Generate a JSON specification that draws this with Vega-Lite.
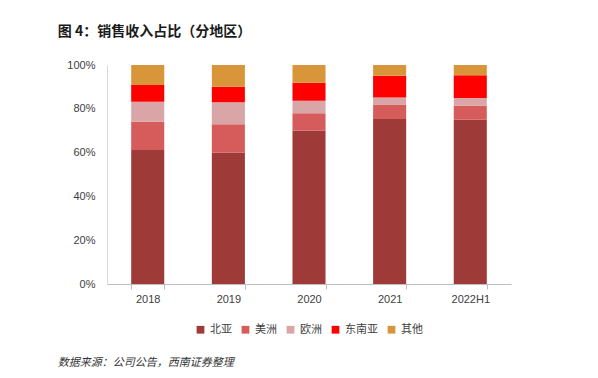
{
  "$schema": "https://vega.github.io/schema/vega-lite/v6.json",
  "padding": {"top": 25, "left": 57, "right": 80, "bottom": 4},
  "background": "white",
  "title": {"text": "数据来源：公司公告，西南证券整理", "orient": "bottom", "anchor": "start", "frame": "bounds", "font": "Noto Sans CJK SC", "fontSize": 11, "fontWeight": "normal", "fontStyle": "italic", "color": "#333333", "offset": 22},
  "config": {
    "font": "Noto Sans CJK SC",
    "view": {"stroke": null},
    "axis": {"labelFont": "Liberation Sans", "labelFontSize": 11, "labelColor": "#404040", "grid": false},
    "legend": {"layout": {"bottom": {"anchor": "middle"}}}
  },
  "vconcat": [
    {
      "width": 404,
      "height": 219,
      "title": {"text": "图 4：销售收入占比（分地区）", "anchor": "start", "frame": "bounds", "font": "Noto Sans CJK SC", "fontSize": 14, "fontWeight": "bold", "color": "#1a1a1a", "offset": 20, "dx": -9},
      "data": {"values": [
        {"year": "2018", "region": "北亚", "k": 1, "share": 61.2},
        {"year": "2018", "region": "美洲", "k": 2, "share": 12.9},
        {"year": "2018", "region": "欧洲", "k": 3, "share": 9.1},
        {"year": "2018", "region": "东南亚", "k": 4, "share": 7.7},
        {"year": "2018", "region": "其他", "k": 5, "share": 9.1},
        {"year": "2019", "region": "北亚", "k": 1, "share": 60.0},
        {"year": "2019", "region": "美洲", "k": 2, "share": 13.0},
        {"year": "2019", "region": "欧洲", "k": 3, "share": 10.0},
        {"year": "2019", "region": "东南亚", "k": 4, "share": 7.1},
        {"year": "2019", "region": "其他", "k": 5, "share": 9.9},
        {"year": "2020", "region": "北亚", "k": 1, "share": 70.1},
        {"year": "2020", "region": "美洲", "k": 2, "share": 7.9},
        {"year": "2020", "region": "欧洲", "k": 3, "share": 5.7},
        {"year": "2020", "region": "东南亚", "k": 4, "share": 8.2},
        {"year": "2020", "region": "其他", "k": 5, "share": 8.1},
        {"year": "2021", "region": "北亚", "k": 1, "share": 75.3},
        {"year": "2021", "region": "美洲", "k": 2, "share": 6.7},
        {"year": "2021", "region": "欧洲", "k": 3, "share": 3.2},
        {"year": "2021", "region": "东南亚", "k": 4, "share": 9.9},
        {"year": "2021", "region": "其他", "k": 5, "share": 4.9},
        {"year": "2022H1", "region": "北亚", "k": 1, "share": 75.0},
        {"year": "2022H1", "region": "美洲", "k": 2, "share": 6.4},
        {"year": "2022H1", "region": "欧洲", "k": 3, "share": 3.5},
        {"year": "2022H1", "region": "东南亚", "k": 4, "share": 10.4},
        {"year": "2022H1", "region": "其他", "k": 5, "share": 4.7}
      ]},
      "mark": {"type": "bar"},
      "encoding": {
        "x": {"field": "year", "type": "nominal", "sort": null,
          "scale": {"paddingInner": 0.59, "paddingOuter": 0.3},
          "axis": {"title": null, "labelAngle": 0, "domainColor": "#bfbfbf", "tickColor": "#bfbfbf", "tickBand": "extent", "tickSize": 5, "labelPadding": 4}},
        "y": {"field": "share", "type": "quantitative", "stack": "normalize",
          "scale": {"domain": [0, 1]},
          "axis": {"title": null, "format": ".0%", "values": [0, 0.2, 0.4, 0.6, 0.8, 1], "labelOverlap": false, "labelBound": false, "ticks": false, "domainColor": "#d9d9d9", "labelPadding": 12}},
        "color": {"field": "region", "type": "nominal",
          "scale": {"domain": ["北亚", "美洲", "欧洲", "东南亚", "其他"], "range": ["#9e3a38", "#d65b5b", "#d9a5a7", "#ff0000", "#d9953a"]},
          "legend": {"orient": "bottom", "title": null, "direction": "horizontal", "symbolType": "square", "symbolSize": 60, "labelFont": "Noto Sans CJK SC", "labelFontSize": 11, "labelColor": "#404040", "columnPadding": 8, "symbolOffset": 0, "offset": 20}},
        "order": {"field": "k", "type": "quantitative", "sort": "ascending"}
      }
    }
  ]
}
